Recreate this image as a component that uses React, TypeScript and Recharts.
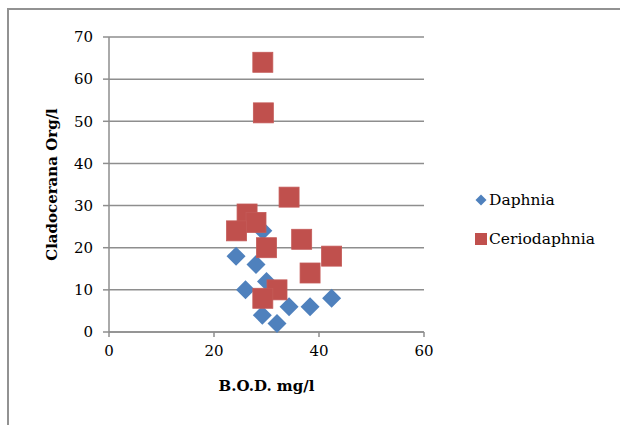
import { ScatterChart, Scatter, XAxis, YAxis, CartesianGrid, Legend } from "recharts";

const daphnia = [
  { bod: 24.2, org: 18 },
  { bod: 28, org: 16 },
  { bod: 29.3, org: 24 },
  { bod: 30, org: 12 },
  { bod: 26, org: 10 },
  { bod: 29.2, org: 4 },
  { bod: 32, org: 2 },
  { bod: 34.3, org: 6 },
  { bod: 38.3, org: 6 },
  { bod: 42.4, org: 8 },
];

const ceriodaphnia = [
  { bod: 29.3, org: 64 },
  { bod: 29.4, org: 52 },
  { bod: 34.3, org: 32 },
  { bod: 26.3, org: 28 },
  { bod: 28, org: 26 },
  { bod: 24.3, org: 24 },
  { bod: 36.7, org: 22 },
  { bod: 30, org: 20 },
  { bod: 42.4, org: 18 },
  { bod: 38.3, org: 14 },
  { bod: 32, org: 10 },
  { bod: 29.3, org: 8 },
];

const xTicks = [0, 20, 40, 60];
const yTicks = [0, 10, 20, 30, 40, 50, 60, 70];

const BLUE = "#4F81BD";
const RED = "#C0504D";
const LINE = "#8e8e8e";
const FONT = "'DejaVu Serif', serif";

const Diamond = (props: any) => {
  const { cx, cy } = props;
  const r = 9.5;
  return (
    <polygon
      points={`${cx},${cy - r} ${cx + r},${cy} ${cx},${cy + r} ${cx - r},${cy}`}
      fill={BLUE}
    />
  );
};

const Square = (props: any) => {
  const { cx, cy } = props;
  return <rect x={cx - 10} y={cy - 10} width={20} height={20} fill={RED} stroke="#c45a57" strokeWidth={0.8} />;
};

const LegendBox = () => (
  <div style={{ fontFamily: FONT, fontSize: 15.5, color: "#000" }}>
    <div style={{ display: "flex", alignItems: "center", height: 22 }}>
      <svg width={14} height={14} style={{ marginLeft: 4, marginRight: 1 }}>
        <polygon points="7,1.5 12.5,7 7,12.5 1.5,7" fill={BLUE} />
      </svg>
      <span>Daphnia</span>
    </div>
    <div style={{ display: "flex", alignItems: "center", height: 22, marginTop: 17 }}>
      <svg width={14} height={14} style={{ marginLeft: 4, marginRight: 1 }}>
        <rect x={1} y={1} width={12} height={12} fill={RED} />
      </svg>
      <span>Ceriodaphnia</span>
    </div>
  </div>
);

export default function App() {
  return (
    <div style={{ position: "fixed", left: 0, top: 0, width: 620, height: 425, overflow: "hidden", background: "#fff" }}>
      <div
        style={{
          position: "absolute",
          left: 7,
          top: 8,
          width: 700,
          height: 500,
          border: "2px solid #929292",
        }}
      />
      <div style={{ position: "absolute", left: 0, top: 0 }}>
        <ScatterChart width={620} height={425} margin={{ top: 37, right: 196, bottom: 53, left: 0 }}>
          <CartesianGrid horizontal vertical={false} stroke={LINE} strokeWidth={1.5} />
          <XAxis
            type="number"
            dataKey="bod"
            domain={[0, 60]}
            ticks={xTicks}
            height={40}
            stroke={LINE}
            strokeWidth={1.5}
            tickSize={5}
            tickMargin={8}
            tick={{ fill: "#000", fontFamily: FONT, fontSize: 15 }}
            label={{
              value: "B.O.D. mg/l",
              position: "insideBottom",
              offset: -19,
              fill: "#000",
              fontFamily: FONT,
              fontSize: 15,
              fontWeight: "bold",
            }}
          />
          <YAxis
            type="number"
            dataKey="org"
            domain={[0, 70]}
            ticks={yTicks}
            width={109}
            stroke={LINE}
            strokeWidth={1.5}
            tickSize={6}
            tickMargin={10}
            tick={{ fill: "#000", fontFamily: FONT, fontSize: 15 }}
            label={{
              value: "Cladocerana Org/l",
              angle: -90,
              position: "insideLeft",
              offset: 52,
              style: { textAnchor: "middle" },
              fill: "#000",
              fontFamily: FONT,
              fontSize: 15,
              fontWeight: "bold",
            }}
          />
          <Legend
            layout="vertical"
            align="center"
            verticalAlign="middle"
            wrapperStyle={{ left: 470, top: 189, width: 150 }}
            content={() => <LegendBox />}
          />
          <Scatter name="Daphnia" data={daphnia} shape={Diamond} isAnimationActive={false} />
          <Scatter name="Ceriodaphnia" data={ceriodaphnia} shape={Square} isAnimationActive={false} />
        </ScatterChart>
      </div>
    </div>
  );
}
